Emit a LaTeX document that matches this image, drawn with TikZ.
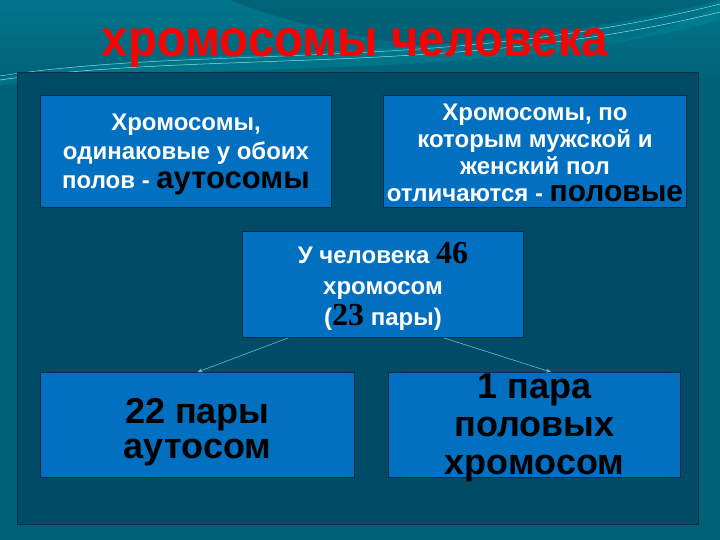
\documentclass[tikz,border=0pt]{standalone}
\usepackage{fontspec}
\setmainfont{Liberation Sans}
\newfontfamily\numserif{Liberation Serif}
\usetikzlibrary{arrows.meta,shadows}
\definecolor{bgteal}{RGB}{0,98,120}
\definecolor{bgtop}{RGB}{0,118,140}
\definecolor{panel}{RGB}{0,76,102}
\definecolor{boxblue}{RGB}{2,112,192}
\definecolor{boxline}{RGB}{10,45,70}
\definecolor{linecyan}{RGB}{70,200,210}
\definecolor{titlered}{RGB}{255,0,0}
\tikzset{
  bx/.style={draw=boxline, line width=1pt, fill=boxblue, anchor=north west, inner sep=0pt},
  tx/.style={text=white, font=\bfseries\fontsize{24}{28}\selectfont, align=center},
  bigtx/.style={text=black, font=\bfseries\fontsize{36}{36}\selectfont, align=center},
  conn/.style={draw=linecyan, line width=0.6pt, -{Stealth[length=5pt,width=4pt]}},
  ttl/.style={font=\bfseries\fontsize{52}{52}\selectfont, xscale=0.91}
}
\begin{document}
\begin{tikzpicture}[x=1pt,y=-1pt]
\useasboundingbox (0,0) rectangle (720,540);
% background
\fill[bgteal] (0,0) rectangle (720,540);
\shade[top color=bgtop, bottom color=bgteal] (0,0) rectangle (720,80);
% swoosh decorations
\fill[bgteal!85!black, opacity=0.5] (230,0) .. controls (330,40) and (480,60) .. (580,48) .. controls (640,40) and (690,20) .. (720,5) -- (720,0) -- cycle;
\fill[bgtop!80!cyan, opacity=0.35] (0,78) .. controls (200,40) and (450,70) .. (720,0) -- (720,20) .. controls (500,80) and (250,60) .. (0,85) -- cycle;
\draw[linecyan!70!white, line width=0.5pt] (0,76) .. controls (200,45) and (450,72) .. (720,4);
\draw[linecyan!60!white, line width=0.5pt] (0,80) .. controls (210,50) and (460,76) .. (720,12);
% title
\node[ttl, text=titlered] (title) at (355,48) {хромосомы человека};
% panel
\draw[fill=panel, draw=boxline, line width=0.8pt] (17,72) rectangle (698,524);
% boxes
\node[bx, minimum width=291pt, minimum height=112pt] (b1) at (40,95) {};
\node[bx, minimum width=303pt, minimum height=112pt] (b2) at (383,95) {};
\node[bx, minimum width=281pt, minimum height=106pt] (b3) at (242,231) {};
\node[bx, minimum width=314pt, minimum height=105pt] (b4) at (40,372) {};
\node[bx, minimum width=292pt, minimum height=105pt] (b5) at (388,372) {};
% texts
\node[tx, font=\bfseries\fontsize{24}{29}\selectfont] (t1) at ([yshift=-3pt]b1.center) {Хромосомы,\\одинаковые у обоих\\полов - {\color{black}\fontsize{31}{29}\selectfont аутосомы}};
\node[tx, font=\bfseries\fontsize{24}{27}\selectfont] (t2) at ([yshift=-1pt]b2.center) {Хромосомы, по\\которым мужской и\\женский пол\\отличаются - {\color{black}\fontsize{30}{27}\selectfont половые}};
\node[tx, font=\bfseries\fontsize{24}{31}\selectfont] (t3) at ([yshift=-2pt]b3.center) {У человека {\color{black}\numserif\fontsize{32}{31}\selectfont 46}\\хромосом\\({\color{black}\numserif\fontsize{32}{31}\selectfont 23} пары)};
\node[bigtx, font=\bfseries\fontsize{36}{35}\selectfont] (t4) at ([yshift=-7pt]b4.center) {22 пары\\аутосом};
\node[bigtx, font=\bfseries\fontsize{36}{38}\selectfont] (t5) at ([yshift=-3pt]b5.center) {1 пара\\половых\\хромосом};
% connectors
\coordinate (c1) at ([xshift=-95pt]b3.south);
\coordinate (c2) at ([xshift=61pt]b3.south);
\draw[conn] (c1) -- ([xshift=0pt]b4.north);
\draw[conn] (c2) -- (b5.north -| 551,0);
\end{tikzpicture}
\end{document}
